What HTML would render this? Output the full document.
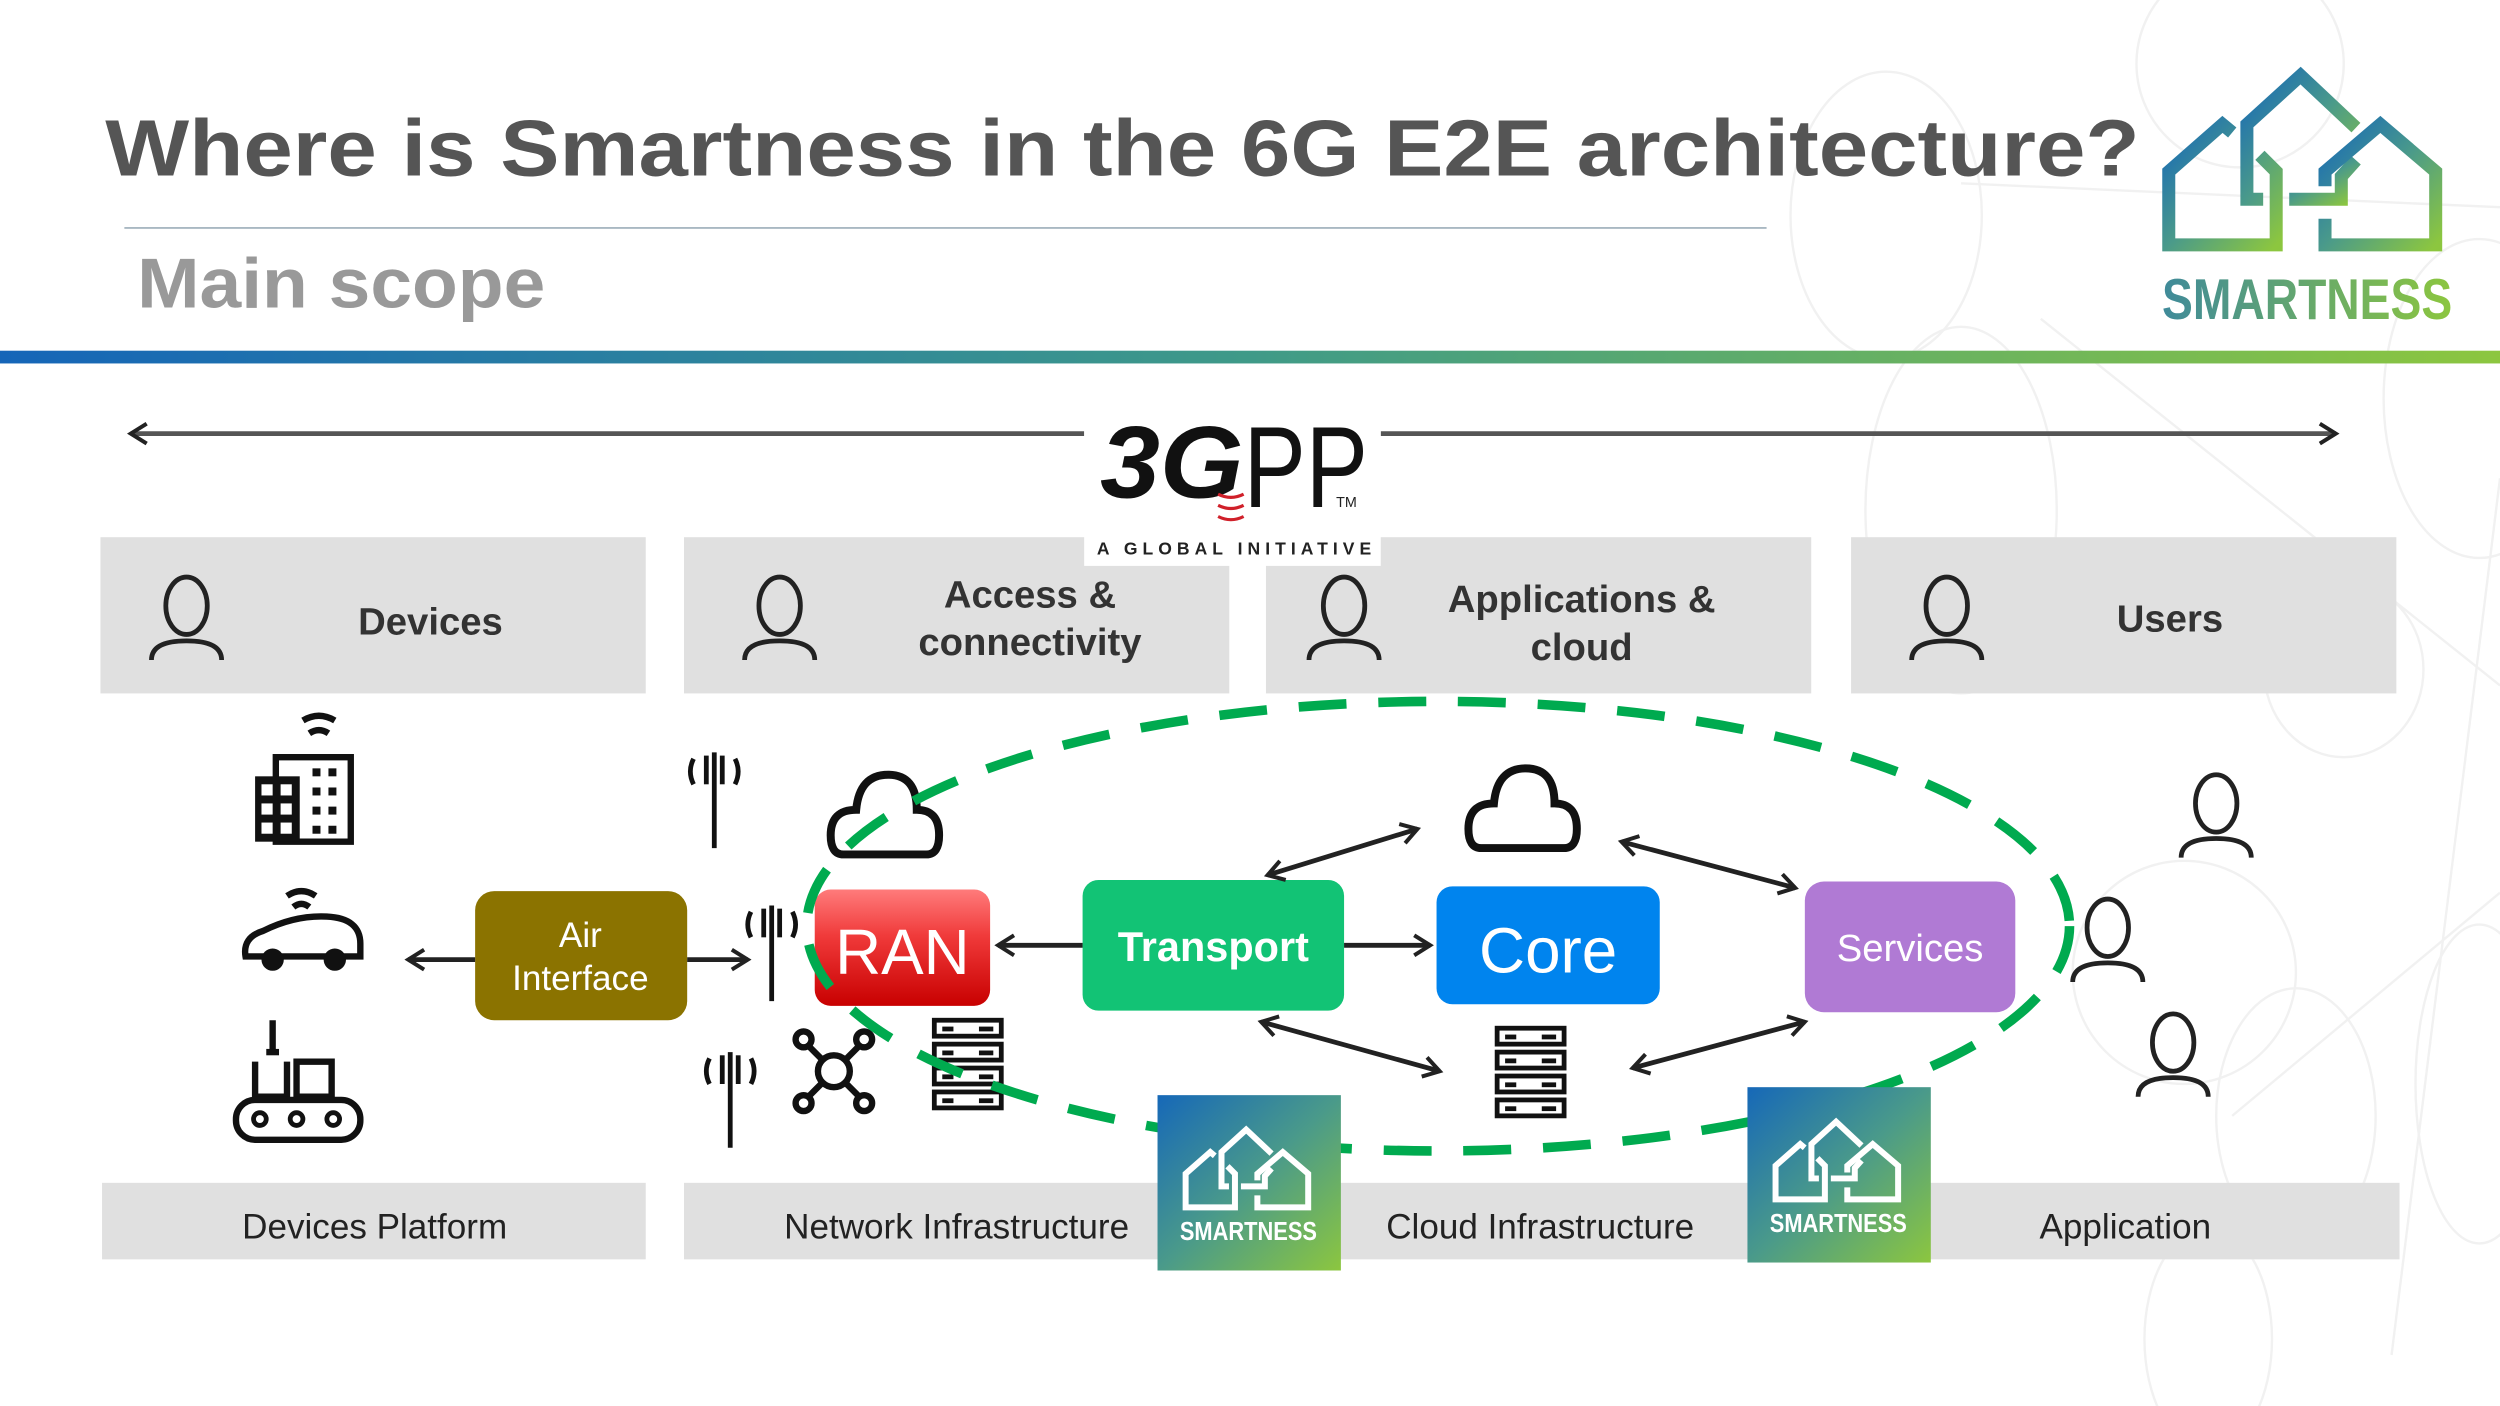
<!DOCTYPE html>
<html><head><meta charset="utf-8"><style>
html,body{margin:0;padding:0;background:#fff;}
svg{display:block;}
text{font-family:"Liberation Sans","DejaVu Sans",sans-serif;}
</style></head><body>
<svg width="2500" height="1406" viewBox="0 0 1568 882" preserveAspectRatio="none" xmlns="http://www.w3.org/2000/svg">
<defs>
<linearGradient id="bar" x1="0" x2="1" y1="0" y2="0"><stop offset="0" stop-color="#1565b8"/><stop offset="0.5" stop-color="#3f9a88"/><stop offset="1" stop-color="#8cc63f"/></linearGradient>
<linearGradient id="lg" x1="0" y1="0" x2="1" y2="1"><stop offset="0" stop-color="#1668b8"/><stop offset="0.5" stop-color="#4a9a8a"/><stop offset="1" stop-color="#8cc63f"/></linearGradient>
<linearGradient id="lt" x1="0" y1="0" x2="1" y2="0"><stop offset="0" stop-color="#3f8a9a"/><stop offset="1" stop-color="#8cc63f"/></linearGradient>
<linearGradient id="ran" x1="0" y1="0" x2="0" y2="1"><stop offset="0" stop-color="#ff7b7b"/><stop offset="0.4" stop-color="#f03a3a"/><stop offset="1" stop-color="#c80000"/></linearGradient>
<marker id="ah" viewBox="0 0 12 12" refX="10" refY="6" markerWidth="5" markerHeight="5" orient="auto-start-reverse" markerUnits="strokeWidth">
<polyline points="2,1 10,6 2,11" fill="none" stroke="#222" stroke-width="2"/></marker>
<symbol id="houses" viewBox="0 0 960 640">
<g fill="none" stroke-width="40" stroke-linejoin="miter">
<polyline points="255,235 225,210 60,355 60,580 390,580 390,355 340,305"/>
<polyline points="350,440 300,440 300,210 465,60 635,220"/>
<polyline points="635,320 590,370 590,440 430,440"/>
<polyline points="540,500 540,580 880,580 880,355 710,210 540,355 540,400"/>
</g>
</symbol>
<g id="person" fill="none" stroke="#222" stroke-width="3">
<ellipse cx="0" cy="-8" rx="13" ry="18"/>
<path d="M-22,26 Q-22,14 0,14 Q22,14 22,26"/>
</g>
<g id="server" fill="#fff" stroke="#111" stroke-width="3">
<rect x="0" y="0" width="42" height="10"/><rect x="0" y="15" width="42" height="10"/><rect x="0" y="30" width="42" height="10"/><rect x="0" y="45" width="42" height="10"/>
<g fill="#111" stroke="none"><rect x="5" y="4" width="7" height="3"/><rect x="5" y="19" width="7" height="3"/><rect x="5" y="34" width="7" height="3"/><rect x="5" y="49" width="7" height="3"/>
<rect x="28" y="4" width="9" height="3"/><rect x="28" y="19" width="9" height="3"/><rect x="28" y="34" width="9" height="3"/><rect x="28" y="49" width="9" height="3"/></g>
</g>
<g id="ant" fill="none" stroke="#111" stroke-width="3">
<line x1="0" y1="-28" x2="0" y2="32"/><line x1="-5" y1="-26" x2="-5" y2="-8"/><line x1="5" y1="-26" x2="5" y2="-8"/>
<path d="M-13,-24 Q-17,-16 -13,-8"/><path d="M13,-24 Q17,-16 13,-8"/>
</g>
<path id="cloud" d="M-28,22 Q-36,22 -36,10 Q-36,-6 -20,-6 Q-18,-28 0,-28 Q18,-28 18,-6 Q32,-6 32,10 Q32,22 24,22 Z" fill="none" stroke="#111" stroke-width="5"/>
</defs>

<g fill="none" stroke="#f1f1f1" stroke-width="1.5">
<ellipse cx="1183" cy="135" rx="60" ry="90"/><ellipse cx="1405" cy="40" rx="65" ry="65"/>
<ellipse cx="1230" cy="320" rx="60" ry="115"/><ellipse cx="1555" cy="250" rx="60" ry="100"/>
<ellipse cx="1470" cy="420" rx="50" ry="55"/><ellipse cx="1440" cy="700" rx="50" ry="80"/>
<ellipse cx="1555" cy="680" rx="40" ry="100"/><ellipse cx="1385" cy="840" rx="40" ry="70"/>
<ellipse cx="1370" cy="610" rx="70" ry="70"/>
<line x1="1230" y1="115" x2="1568" y2="130"/><line x1="1280" y1="200" x2="1568" y2="430"/>
<line x1="1400" y1="700" x2="1568" y2="560"/><line x1="1500" y1="850" x2="1568" y2="300"/>
</g>

<text x="66" y="110" font-size="50" font-weight="bold" fill="#555" textLength="1276" lengthAdjust="spacingAndGlyphs">Where is Smartness in the 6G E2E architecture?</text>
<line x1="78" y1="143" x2="1108" y2="143" stroke="#a9b8c2" stroke-width="1.2"/>
<text x="86" y="193" font-size="44" font-weight="bold" fill="#999" textLength="256" lengthAdjust="spacingAndGlyphs">Main scope</text>
<rect x="0" y="220" width="1568" height="8" fill="url(#bar)"/>

<use href="#houses" x="1348" y="35" width="196" height="131" stroke="url(#lg)"/>
<text x="1356" y="200" font-size="36" font-weight="bold" fill="url(#lt)" textLength="182" lengthAdjust="spacingAndGlyphs">SMARTNESS</text>

<line x1="82" y1="272" x2="680" y2="272" stroke="#555" stroke-width="3" marker-start="url(#ah)"/>
<line x1="866" y1="272" x2="1465" y2="272" stroke="#555" stroke-width="3" marker-end="url(#ah)"/>

<g fill="#e0e0e0">
<rect x="63" y="337" width="342" height="98"/><rect x="429" y="337" width="342" height="98"/>
<rect x="794" y="337" width="342" height="98"/><rect x="1161" y="337" width="342" height="98"/>
</g>
<rect x="680" y="240" width="186" height="115" fill="#fff"/>
<text x="690" y="312" font-size="64" font-weight="bold" font-style="italic" fill="#111" textLength="90" lengthAdjust="spacingAndGlyphs">3G</text>
<text x="780" y="318" font-size="72" fill="#111" textLength="78" lengthAdjust="spacingAndGlyphs">PP</text>
<text x="838" y="318" font-size="9" fill="#222">TM</text>
<path d="M764,310 q8,4 16,0 M764,317 q8,4 16,0 M764,324 q8,4 16,0" fill="none" stroke="#d0202a" stroke-width="2"/>
<text x="688" y="348" font-size="11" font-weight="bold" fill="#222" textLength="172" lengthAdjust="spacing">A GLOBAL INITIATIVE</text>

<use href="#person" x="117" y="388"/><use href="#person" x="489" y="388"/>
<use href="#person" x="843" y="388"/><use href="#person" x="1221" y="388"/>
<g font-size="24" fill="#333" font-weight="bold" text-anchor="middle">
<text x="270" y="398">Devices</text>
<text x="646" y="381">Access &amp;</text><text x="646" y="411">connectivity</text>
<text x="992" y="384">Applications &amp;</text><text x="992" y="414">cloud</text>
<text x="1361" y="396">Users</text>
</g>

<rect x="64" y="742" width="341" height="48" fill="#e0e0e0"/>
<rect x="429" y="742" width="1076" height="48" fill="#e0e0e0"/>
<g font-size="22" fill="#222" text-anchor="middle">
<text x="235" y="777">Devices Platform</text>
<text x="600" y="777">Network Infrastructure</text>
<text x="966" y="777">Cloud Infrastructure</text>
<text x="1333" y="777">Application</text>
</g>

<g fill="#111">
<rect x="173" y="475" width="47" height="53" fill="none" stroke="#111" stroke-width="4"/>
<rect x="160" y="487" width="28" height="41"/>
<g fill="#fff"><rect x="164" y="492" width="7" height="7"/><rect x="176" y="492" width="7" height="7"/><rect x="164" y="504" width="7" height="7"/><rect x="176" y="504" width="7" height="7"/><rect x="164" y="516" width="7" height="7"/><rect x="176" y="516" width="7" height="7"/></g>
<rect x="196" y="482" width="5" height="5"/><rect x="206" y="482" width="5" height="5"/><rect x="196" y="494" width="5" height="5"/><rect x="206" y="494" width="5" height="5"/><rect x="196" y="506" width="5" height="5"/><rect x="206" y="506" width="5" height="5"/><rect x="196" y="518" width="5" height="5"/><rect x="206" y="518" width="5" height="5"/>
</g>
<path d="M190,452 q10,-6 20,0 M194,460 q6,-4 12,0" fill="none" stroke="#111" stroke-width="4"/>
<path d="M180,562 q9,-6 18,0 M184,569 q5,-4 10,0" fill="none" stroke="#111" stroke-width="4"/>
<path d="M154,600 Q152,588 165,584 Q185,574 205,575 Q226,576 226,592 L226,600 Z" fill="none" stroke="#111" stroke-width="4"/>
<circle cx="171" cy="602" r="7" fill="#111"/><circle cx="210" cy="602" r="7" fill="#111"/>
<line x1="171" y1="640" x2="171" y2="660" stroke="#111" stroke-width="4"/>
<rect x="167" y="658" width="8" height="4" fill="#111"/>
<path d="M160,666 V688 H180 V666 M186,666 H208 V688 H186 Z" fill="none" stroke="#111" stroke-width="4"/>
<rect x="148" y="690" width="78" height="25" rx="12" fill="none" stroke="#111" stroke-width="4"/>
<circle cx="163" cy="702" r="4" fill="none" stroke="#111" stroke-width="3"/><circle cx="186" cy="702" r="4" fill="none" stroke="#111" stroke-width="3"/><circle cx="209" cy="702" r="4" fill="none" stroke="#111" stroke-width="3"/>

<use href="#ant" x="448" y="500"/><use href="#ant" x="484" y="596"/><use href="#ant" x="458" y="688"/>
<use href="#cloud" x="557" y="514"/><use href="#cloud" x="957" y="510"/>
<g fill="none" stroke="#111" stroke-width="4">
<circle cx="523" cy="672" r="10"/>
<line x1="506" y1="655" x2="516" y2="665"/><line x1="540" y1="655" x2="530" y2="665"/><line x1="506" y1="689" x2="516" y2="679"/><line x1="540" y1="689" x2="530" y2="679"/>
<circle cx="504" cy="652" r="5"/><circle cx="542" cy="652" r="5"/><circle cx="504" cy="692" r="5"/><circle cx="542" cy="692" r="5"/>
</g>
<use href="#server" x="586" y="640"/><use href="#server" x="939" y="645"/>

<rect x="298" y="559" width="133" height="81" rx="12" fill="#8b7300"/>
<text x="364" y="594" font-size="22" fill="#fff" text-anchor="middle">Air</text>
<text x="364" y="621" font-size="22" fill="#fff" text-anchor="middle">Interface</text>
<rect x="511" y="558" width="110" height="73" rx="10" fill="url(#ran)"/>
<text x="566" y="611" font-size="40" fill="#fff" text-anchor="middle">RAN</text>
<rect x="679" y="552" width="164" height="82" rx="10" fill="#12c375"/>
<text x="761" y="603" font-size="26" font-weight="bold" fill="#fff" text-anchor="middle">Transport</text>
<rect x="901" y="556" width="140" height="74" rx="10" fill="#0084ee"/>
<text x="971" y="610" font-size="40" fill="#fff" text-anchor="middle">Core</text>
<rect x="1132" y="553" width="132" height="82" rx="12" fill="#b07ad4"/>
<text x="1198" y="603" font-size="24" fill="#fff" text-anchor="middle">Services</text>

<g stroke="#222" stroke-width="3" fill="none">
<line x1="298" y1="602" x2="256" y2="602" marker-end="url(#ah)"/>
<line x1="431" y1="602" x2="469" y2="602" marker-end="url(#ah)"/>
<line x1="679" y1="593" x2="626" y2="593" marker-end="url(#ah)"/>
<line x1="843" y1="593" x2="897" y2="593" marker-end="url(#ah)"/>
<line x1="795" y1="549" x2="889" y2="520" marker-start="url(#ah)" marker-end="url(#ah)"/>
<line x1="1017" y1="528" x2="1126" y2="557" marker-start="url(#ah)" marker-end="url(#ah)"/>
<line x1="791" y1="641" x2="903" y2="672" marker-start="url(#ah)" marker-end="url(#ah)"/>
<line x1="1024" y1="670" x2="1132" y2="641" marker-start="url(#ah)" marker-end="url(#ah)"/>
</g>

<ellipse cx="902" cy="581" rx="396" ry="141" fill="none" stroke="#00aa4f" stroke-width="6" stroke-dasharray="30 20"/>

<use href="#person" x="1390" y="512"/><use href="#person" x="1322" y="590"/><use href="#person" x="1363" y="662"/>

<rect x="726" y="687" width="115" height="110" fill="url(#lg)"/>
<use href="#houses" x="738" y="703" width="90" height="60" stroke="#fff"/>
<text x="783" y="778" font-size="16" font-weight="bold" fill="#fff" text-anchor="middle" textLength="86" lengthAdjust="spacingAndGlyphs">SMARTNESS</text>
<rect x="1096" y="682" width="115" height="110" fill="url(#lg)"/>
<use href="#houses" x="1108" y="698" width="90" height="60" stroke="#fff"/>
<text x="1153" y="773" font-size="16" font-weight="bold" fill="#fff" text-anchor="middle" textLength="86" lengthAdjust="spacingAndGlyphs">SMARTNESS</text>
</svg>
</body></html>
